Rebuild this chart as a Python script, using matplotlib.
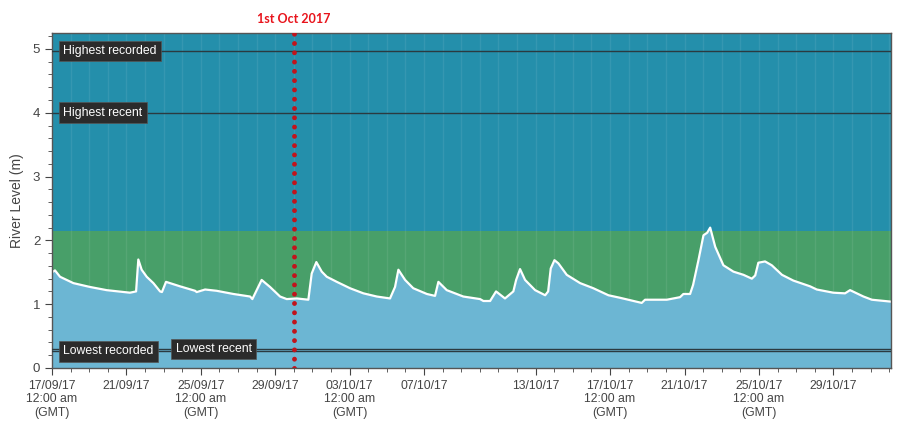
import matplotlib
matplotlib.use("Agg")
import matplotlib.pyplot as plt
import matplotlib.dates as mdates
import numpy as np
import pandas as pd

# ---- data ----
start_date = "2017-09-17 00:00"
end_days = 45.1
days = [0.0, 0.16, 0.43, 1.15, 2.04, 2.94, 4.19, 4.52, 4.64, 4.82, 5.09, 5.45, 5.81, 5.91,
        6.13, 6.88, 7.69, 7.78, 8.23, 8.85, 9.75, 10.65, 10.77, 11.27, 11.72, 12.26, 12.62,
        13.16, 13.78, 13.96, 14.21, 14.50, 14.77, 15.31, 16.02, 16.74, 17.46, 18.17, 18.44,
        18.62, 18.98, 19.42, 20.15, 20.59, 20.77, 21.22, 22.11, 23.01, 23.19, 23.55, 23.87,
        24.35, 24.80, 24.95, 25.16, 25.43, 25.97, 26.51, 26.67, 26.81, 27.01, 27.22, 27.67,
        28.39, 29.10, 29.91, 30.54, 31.70, 31.88, 33.05, 33.76, 33.94, 34.30, 34.46, 34.75,
        35.02, 35.22, 35.38, 35.65, 36.09, 36.63, 37.17, 37.62, 37.80, 37.97, 38.33, 38.69,
        39.24, 39.85, 40.75, 41.11, 42.00, 42.63, 42.90, 43.62, 44.07, 45.10]
level = [1.50, 1.53, 1.43, 1.33, 1.27, 1.22, 1.18, 1.20, 1.70, 1.54, 1.43, 1.33, 1.20, 1.19,
         1.35, 1.28, 1.21, 1.19, 1.23, 1.21, 1.16, 1.12, 1.08, 1.38, 1.27, 1.12, 1.08,
         1.09, 1.07, 1.48, 1.66, 1.51, 1.43, 1.35, 1.25, 1.17, 1.12, 1.09, 1.27,
         1.54, 1.38, 1.25, 1.16, 1.13, 1.35, 1.22, 1.12, 1.08, 1.05, 1.05, 1.20,
         1.09, 1.20, 1.38, 1.55, 1.38, 1.22, 1.14, 1.20, 1.56, 1.69, 1.64, 1.46,
         1.33, 1.25, 1.14, 1.10, 1.02, 1.07, 1.07, 1.11, 1.16, 1.16, 1.30, 1.69,
         2.08, 2.12, 2.20, 1.90, 1.61, 1.51, 1.46, 1.40, 1.45, 1.65, 1.67, 1.61,
         1.46, 1.37, 1.28, 1.23, 1.18, 1.17, 1.22, 1.12, 1.07, 1.04]

band_top = 2.15
ref_names = ["Highest recorded", "Highest recent", "Lowest recent", "Lowest recorded"]
ref_values = [4.97, 4.00, 0.30, 0.26]
ref_label_day = [0.6, 0.6, 6.65, 0.6]
marker_date = "2017-09-30 00:00"
marker_label = "1st Oct 2017"
ylabel = "River Level (m)"
tick_dates = ["2017-09-17", "2017-09-21", "2017-09-25", "2017-09-29", "2017-10-03",
              "2017-10-07", "2017-10-13", "2017-10-17", "2017-10-21", "2017-10-25",
              "2017-10-29"]
tick_labels = ["17/09/17\n12:00 am\n(GMT)", "21/09/17", "25/09/17\n12:00 am\n(GMT)",
               "29/09/17", "03/10/17\n12:00 am\n(GMT)", "07/10/17", "13/10/17",
               "17/10/17\n12:00 am\n(GMT)", "21/10/17", "25/10/17\n12:00 am\n(GMT)",
               "29/10/17"]

# ---- plot ----
plt.rcParams['font.family'] = ['Liberation Sans', 'DejaVu Sans']
fig = plt.figure(figsize=(9.2, 4.3), dpi=100)
ax = fig.add_axes([52/920, 1-368/430, (891-52)/920, (368-33)/430])

t0 = pd.Timestamp(start_date)
times = t0 + pd.to_timedelta(np.array(days), unit="D")
tend = t0 + pd.Timedelta(days=end_days)
ymax = 5.25

ax.set_xlim(t0, tend)
ax.set_ylim(0, ymax)

blue = "#248fab"
green = "#489f69"
light = "#6cb6d3"
ax.axhspan(band_top, ymax, color=blue, lw=0, zorder=0)
ax.axhspan(0, band_top, color=green, lw=0, zorder=0)

# faint daily gridlines
for d in pd.date_range(t0, tend, freq="D"):
    ax.axvline(d, color="white", alpha=0.08, lw=1, zorder=0.5)

ax.fill_between(times, level, 0, color=light, lw=0, zorder=1)
ax.plot(times, level, color="white", lw=1.6, zorder=2)

for name, val, ld in zip(ref_names, ref_values, ref_label_day):
    ax.axhline(val, color="#2b3a40", lw=1.0, zorder=3)
    ax.text(t0 + pd.Timedelta(days=ld), val, name, color="white", fontsize=8.8,
            va="center", ha="left", zorder=5,
            bbox=dict(boxstyle="square,pad=0.35", fc="#2b2b2b", ec="#555555", lw=0.5))

md = pd.Timestamp(marker_date)
ax.axvline(md, color="#c0141c", lw=3.5, ls=(0, (0.01, 1.9)), dash_capstyle="round",
           solid_capstyle="round", zorder=4)
ax.text(md, ymax + 0.12, marker_label, color="#e8141c", fontsize=9, fontweight="bold",
        ha="center", va="bottom", family=["Lato", "DejaVu Sans"])

# ticks
ax.set_xticks(pd.to_datetime(tick_dates))
ax.set_xticklabels(tick_labels, fontsize=8.8, color="#444444", linespacing=1.15)
ax.xaxis.set_minor_locator(mdates.DayLocator())
ax.set_yticks(range(0, 6))
ax.set_yticklabels([str(v) for v in range(0, 6)], fontsize=9.5, color="#444444")
ax.yaxis.set_minor_locator(matplotlib.ticker.MultipleLocator(0.2))
ax.tick_params(axis="both", which="major", length=5, color="#444444", direction="out")
ax.tick_params(axis="both", which="minor", length=3, color="#444444", direction="out")
ax.set_ylabel(ylabel, fontsize=10, color="#444444", labelpad=6)
for sp in ax.spines.values():
    sp.set_color("#555555")
    sp.set_linewidth(1)

fig.savefig("out.png", dpi=100)
